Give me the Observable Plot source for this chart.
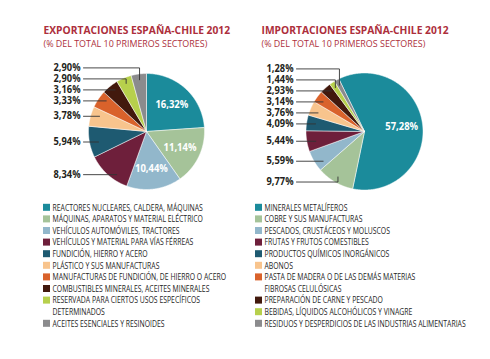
<!DOCTYPE html>
<html><head><meta charset="utf-8">
<script src="https://cdn.jsdelivr.net/npm/d3@7"></script>
<script src="https://cdn.jsdelivr.net/npm/@observablehq/plot@0.6"></script>
<style>body{margin:0;background:#fff}</style>
</head><body><div id="chart"></div>
<script>
const exportTitle = "EXPORTACIONES ESPAÑA-CHILE 2012";
const importTitle = "IMPORTACIONES ESPAÑA-CHILE 2012";
const subtitleText = "(% DEL TOTAL 10 PRIMEROS SECTORES)";

const exportSectors = [
  "REACTORES NUCLEARES, CALDERA, MÁQUINAS",
  "MÁQUINAS, APARATOS Y MATERIAL ELÉCTRICO",
  "VEHÍCULOS AUTOMÓVILES, TRACTORES",
  "VEHÍCULOS Y MATERIAL PARA VÍAS FÉRREAS",
  "FUNDICIÓN, HIERRO Y ACERO",
  "PLÁSTICO Y SUS MANUFACTURAS",
  "MANUFACTURAS DE FUNDICIÓN, DE HIERRO O ACERO",
  "COMBUSTIBLES MINERALES, ACEITES MINERALES",
  "RESERVADA PARA CIERTOS USOS ESPECÍFICOS\nDETERMINADOS",
  "ACEITES ESENCIALES Y RESINOIDES"
];
const exportValues = [16.32, 11.14, 10.44, 8.34, 5.94, 3.78, 3.33, 3.16, 2.90, 2.90];

const importSectors = [
  "MINERALES METALÍFEROS",
  "COBRE Y SUS MANUFACTURAS",
  "PESCADOS, CRUSTÁCEOS Y MOLUSCOS",
  "FRUTAS Y FRUTOS COMESTIBLES",
  "PRODUCTOS QUÍMICOS INORGÁNICOS",
  "ABONOS",
  "PASTA DE MADERA O DE LAS DEMÁS MATERIAS\nFIBROSAS CELULÓSICAS",
  "PREPARACIÓN DE CARNE Y PESCADO",
  "BEBIDAS, LÍQUIDOS ALCOHÓLICOS Y VINAGRE",
  "RESIDUOS Y DESPERDICIOS DE LAS INDUSTRIAS ALIMENTARIAS"
];
const importValues = [57.28, 9.77, 5.59, 5.44, 4.09, 3.76, 3.14, 2.93, 1.44, 1.28];

const sectorColors = ["#1b8b9b","#a5c399","#92b7cb","#6e1f3b","#1e5a71","#f8c48d","#d9622b","#42190d","#b7d04c","#8b8b8d"];

// ---- layout ----
const W = 490, H = 359;
const FONT = "'Open Sans', sans-serif";
const RED = "#ad2f3c";
const charts = [
  {title: exportTitle, sectors: exportSectors, values: exportValues, cx: 146, cy: 131, r: 58, start: 0, labelX: 80, tx: 43, swX: 43},
  {title: importTitle, sectors: importSectors, values: importValues, cx: 364, cy: 131, r: 58.5, start: -26, labelX: 293, tx: 261, swX: 255}
];
const fmt = v => d3.format(".2f")(v).replace(".", ",") + "%";

function relax(items, gap) {
  items.sort((a, b) => a.d - b.d);
  let clusters = items.map(it => ({items: [it], y: it.d}));
  let merged = true;
  while (merged) {
    merged = false;
    for (let i = 0; i < clusters.length - 1; i++) {
      const a = clusters[i], b = clusters[i + 1];
      if (b.y < a.y + a.items.length * gap) {
        const its = [...a.items, ...b.items];
        clusters.splice(i, 2, {items: its, y: d3.mean(its, (it, k) => it.d - k * gap)});
        merged = true; break;
      }
    }
  }
  clusters.forEach(cl => cl.items.forEach((it, k) => it.y = cl.y + k * gap));
}

const slices = [], leaders = [], inLabels = [], outLabels = [], titles = [], subs = [], swatches = [], legendTexts = [];

charts.forEach((c, ci) => {
  const s0 = c.start * Math.PI / 180;
  const arcs = d3.pie().sort(null).value(d => d).startAngle(s0).endAngle(s0 + 2 * Math.PI)(c.values);
  const pt = (ang, rr) => [c.cx + rr * Math.sin(ang), c.cy - rr * Math.cos(ang)];
  const outs = [];
  arcs.forEach((a, i) => {
    const key = ci + "-" + i;
    slices.push({key, rank: i, x: c.cx, y: c.cy});
    const n = Math.max(2, Math.ceil((a.endAngle - a.startAngle) / (Math.PI / 360)));
    for (let k = 0; k <= n; k++) {
      const [x, y] = pt(a.startAngle + (a.endAngle - a.startAngle) * k / n, c.r);
      slices.push({key, rank: i, x, y});
    }
    slices.push({key, rank: i, x: c.cx, y: c.cy});
    const mid = (a.startAngle + a.endAngle) / 2;
    if (c.values[i] >= 10) {
      const [x, y] = pt(mid, 0.64 * c.r);
      inLabels.push({x, y, text: fmt(c.values[i])});
    } else {
      outs.push({a, i, mid, d: c.cy - c.r * Math.cos(mid)});
    }
  });
  relax(outs, 11);
  outs.forEach(o => {
    outLabels.push({x: c.labelX, y: o.y, text: fmt(c.values[o.i])});
    const key = "L" + ci + "-" + o.i;
    const sx = c.labelX + 3, ly = o.y, dy = ly - c.cy;
    let pts = null;
    if (Math.abs(dy) < 0.82 * c.r) {
      const ex = c.cx - Math.sqrt(c.r * c.r - dy * dy) + 9;
      let ang = Math.atan2(ex - c.cx, c.cy - ly);
      while (ang < o.a.startAngle) ang += 2 * Math.PI;
      while (ang >= o.a.startAngle + 2 * Math.PI) ang -= 2 * Math.PI;
      if (ang <= o.a.endAngle) pts = [[sx, ly], [ex, ly]];
    }
    if (!pts) {
      const [ax, ay] = pt(o.mid, 0.9 * c.r);
      pts = [[sx, ly], [ax, ly], [ax, ay]];
    }
    pts.forEach(([x, y]) => leaders.push({key, x, y}));
  });
  titles.push({x: c.tx, y: 30.5, text: c.title});
  subs.push({x: c.tx, y: 43.5, text: subtitleText});
  let line = 0;
  const y0 = 207.3, step = 11.6;
  c.sectors.forEach((name, i) => {
    const y = y0 + line * step;
    swatches.push({rank: i, x1: c.swX, x2: c.swX + 7, y1: y - 3.5, y2: y + 3.5});
    name.split("\n").forEach(t => {
      legendTexts.push({x: c.swX + 9, y: y0 + line * step, text: t});
      line++;
    });
  });
});

// horizontal condensing factor for each text mark, in mark order
const textScales = [0.9, 0.93, 0.95, 0.97, 0.82];

const plot = Plot.plot({
  width: W, height: H,
  margin: 0,
  style: {background: "white", fontFamily: FONT},
  x: {domain: [0, W], range: [0, W], axis: null},
  y: {domain: [0, H], range: [0, H], axis: null},
  color: {type: "ordinal", domain: d3.range(10), range: sectorColors},
  marks: [
    Plot.line(slices, {x: "x", y: "y", z: "key", fill: "rank", stroke: "white", strokeWidth: 0.5, curve: "linear"}),
    Plot.line(leaders, {x: "x", y: "y", z: "key", stroke: "#333", strokeWidth: 0.9, curve: "linear"}),
    Plot.rect(swatches, {x1: "x1", x2: "x2", y1: "y1", y2: "y2", fill: "rank", inset: 0}),
    Plot.text(inLabels, {x: "x", y: "y", text: "text", fill: "white", fontWeight: "bold", fontSize: 10.5, fontFamily: FONT}),
    Plot.text(outLabels, {x: "x", y: "y", text: "text", textAnchor: "end", fill: "#231f20", fontWeight: "bold", fontSize: 10, fontFamily: FONT}),
    Plot.text(titles, {x: "x", y: "y", text: "text", textAnchor: "start", fill: RED, fontWeight: "bold", fontSize: 10.8, fontFamily: FONT}),
    Plot.text(subs, {x: "x", y: "y", text: "text", textAnchor: "start", fill: RED, fontSize: 9.2, fontFamily: FONT}),
    Plot.text(legendTexts, {x: "x", y: "y", text: "text", textAnchor: "start", fill: "#262626", fontSize: 8.4, fontFamily: FONT})
  ]
});

document.getElementById("chart").appendChild(plot);

const textGroups = Array.from(plot.querySelectorAll("g[aria-label='text']"));
textGroups.forEach((g, gi) => {
  const s = textScales[gi];
  if (!s) return;
  g.querySelectorAll("text").forEach(t => {
    const L = t.getComputedTextLength();
    if (L > 0) {
      t.setAttribute("textLength", (L * s).toFixed(2));
      t.setAttribute("lengthAdjust", "spacingAndGlyphs");
    }
  });
});
</script>
</body></html>
